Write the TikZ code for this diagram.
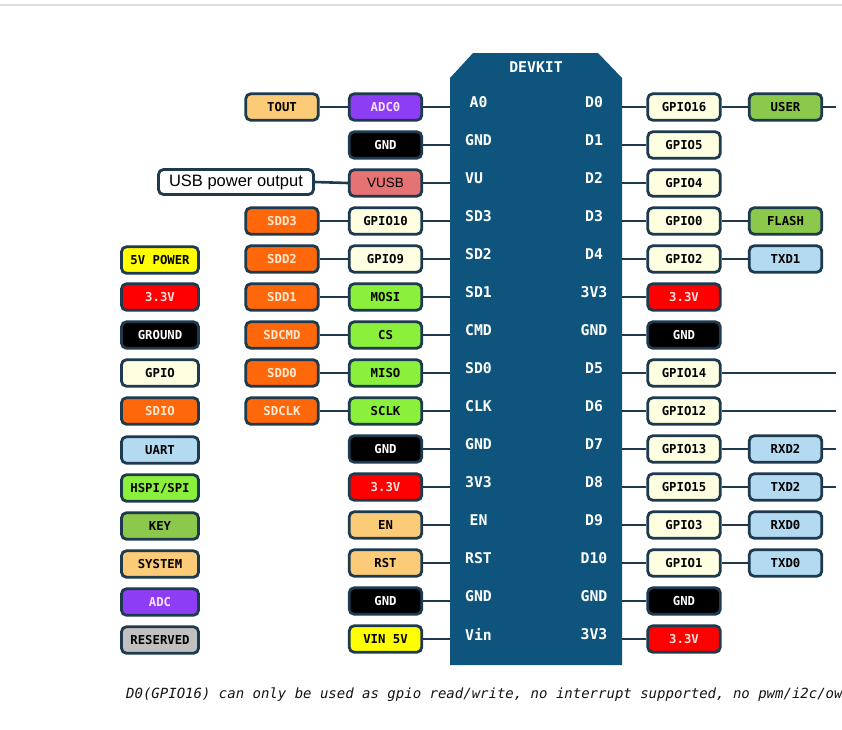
\documentclass[tikz,border=0pt]{standalone}
\usepackage{fontspec}
\newfontfamily\monof{DejaVu Sans Mono}
\newfontfamily\sansf{Liberation Sans}
\definecolor{bordc}{RGB}{30,58,78}
\definecolor{chipc}{RGB}{14,84,125}
\definecolor{sysc}{RGB}{252,203,120}
\definecolor{adcc}{RGB}{141,62,244}
\definecolor{adct}{RGB}{245,225,255}
\definecolor{usbc}{RGB}{229,115,115}
\definecolor{sdioc}{RGB}{255,104,10}
\definecolor{sdiot}{RGB}{255,232,210}
\definecolor{gpioc}{RGB}{254,254,224}
\definecolor{spic}{RGB}{138,240,60}
\definecolor{keyc}{RGB}{140,200,76}
\definecolor{uartc}{RGB}{180,218,242}
\definecolor{redc}{RGB}{255,0,0}
\definecolor{redt}{RGB}{255,225,225}
\definecolor{yelc}{RGB}{255,255,0}
\definecolor{resc}{RGB}{192,192,192}
\definecolor{notec}{RGB}{20,20,20}
\tikzset{
  pbox/.style={draw=bordc, line width=2.8pt, rounded corners=5pt,
    minimum width=72.5pt, minimum height=26.5pt, inner sep=0pt,
    font=\monof\bfseries\fontsize{12.3}{12}\selectfont, text=black},
  lgbox/.style={pbox, minimum width=77pt},
  wire/.style={draw=bordc, line width=2.6pt},
  plabel/.style={text=white, inner sep=0pt,
    font=\monof\bfseries\fontsize{14.8}{15}\selectfont},
  fsys/.style={fill=sysc},
  fadc/.style={fill=adcc, text=adct},
  fgnd/.style={fill=black, text=white},
  fusb/.style={fill=usbc, text=black, font=\sansf\fontsize{13.5}{14}\selectfont},
  fsdio/.style={fill=sdioc, text=sdiot},
  fgpio/.style={fill=gpioc},
  fspi/.style={fill=spic},
  fkey/.style={fill=keyc},
  fuart/.style={fill=uartc},
  fred/.style={fill=redc, text=redt},
  fyel/.style={fill=yelc},
  fres/.style={fill=resc},
}
\begin{document}
\begin{tikzpicture}[x=1pt,y=-1pt]
\fill[white] (0,0) rectangle (842,729);
\useasboundingbox (0,0) rectangle (842,729);
\draw[black!13, line width=1.5pt] (0,5) -- (842,5);

% chip body
\fill[chipc] (450,78) -- (473,53) -- (598,53) -- (622,78) -- (622,665) -- (450,665) -- cycle;
\node[plabel] (title) at (536,67) {DEVKIT};

% chip edge coordinates
\foreach \i in {0,...,14}{
  \pgfmathsetmacro\yy{107+38*\i}
  \coordinate (cL\i) at (450,\yy);
  \coordinate (cR\i) at (622,\yy);
  \coordinate (e\i) at (836,\yy);
}

% chip pin labels
\foreach \xx/\t [count=\i from 0] in {478.5/A0,478.5/GND,474/VU,478.5/SD3,478.5/SD2,478.5/SD1,478.5/CMD,478.5/SD0,478.5/CLK,478.5/GND,478.5/3V3,478.5/EN,478.5/RST,478.5/GND,478.5/Vin}{
  \node[plabel] (pl\i) at (\xx,{102+38*\i}) {\t};
}
\foreach \t [count=\i from 0] in {D0,D1,D2,D3,D4,3V3,GND,D5,D6,D7,D8,D9,D10,GND,3V3}{
  \node[plabel] (pr\i) at (594,{102+38*\i}) {\t};
}

% left inner column
\node[pbox,fadc]  (li0)  at (385.5,107) {ADC0};
\node[pbox,fgnd]  (li1)  at (385.5,145) {GND};
\node[pbox,fusb]  (li2)  at (385.5,183) {VUSB};
\node[pbox,fgpio] (li3)  at (385.5,221) {GPIO10};
\node[pbox,fgpio] (li4)  at (385.5,259) {GPIO9};
\node[pbox,fspi]  (li5)  at (385.5,297) {MOSI};
\node[pbox,fspi]  (li6)  at (385.5,335) {CS};
\node[pbox,fspi]  (li7)  at (385.5,373) {MISO};
\node[pbox,fspi]  (li8)  at (385.5,411) {SCLK};
\node[pbox,fgnd]  (li9)  at (385.5,449) {GND};
\node[pbox,fred]  (li10) at (385.5,487) {3.3V};
\node[pbox,fsys]  (li11) at (385.5,525) {EN};
\node[pbox,fsys]  (li12) at (385.5,563) {RST};
\node[pbox,fgnd]  (li13) at (385.5,601) {GND};
\node[pbox,fyel]  (li14) at (385.5,639) {VIN 5V};

% left outer column
\node[pbox,fsys]  (lo0) at (282,107) {TOUT};
\node[pbox,fill=white, minimum width=155pt, minimum height=25pt,
      font=\sansf\fontsize{16.5}{17}\selectfont] (lo2) at (236,182) {USB power output};
\node[pbox,fsdio] (lo3) at (282,221) {SDD3};
\node[pbox,fsdio] (lo4) at (282,259) {SDD2};
\node[pbox,fsdio] (lo5) at (282,297) {SDD1};
\node[pbox,fsdio] (lo6) at (282,335) {SDCMD};
\node[pbox,fsdio] (lo7) at (282,373) {SDD0};
\node[pbox,fsdio] (lo8) at (282,411) {SDCLK};

% legend
\node[lgbox,fyel]  (lg4)  at (160,260) {5V POWER};
\node[lgbox,fred]  (lg5)  at (160,297) {3.3V};
\node[lgbox,fgnd]  (lg6)  at (160,335) {GROUND};
\node[lgbox,fgpio] (lg7)  at (160,373) {GPIO};
\node[lgbox,fsdio] (lg8)  at (160,411) {SDIO};
\node[lgbox,fuart] (lg9)  at (160,450) {UART};
\node[lgbox,fspi]  (lg10) at (160,488) {HSPI/SPI};
\node[lgbox,fkey]  (lg11) at (160,526) {KEY};
\node[lgbox,fsys]  (lg12) at (160,564) {SYSTEM};
\node[lgbox,fadc]  (lg13) at (160,602) {ADC};
\node[lgbox,fres]  (lg14) at (160,640) {RESERVED};

% right GPIO column
\node[pbox,fgpio] (r0)  at (684,107) {GPIO16};
\node[pbox,fgpio] (r1)  at (684,145) {GPIO5};
\node[pbox,fgpio] (r2)  at (684,183) {GPIO4};
\node[pbox,fgpio] (r3)  at (684,221) {GPIO0};
\node[pbox,fgpio] (r4)  at (684,259) {GPIO2};
\node[pbox,fred]  (r5)  at (684,297) {3.3V};
\node[pbox,fgnd]  (r6)  at (684,335) {GND};
\node[pbox,fgpio] (r7)  at (684,373) {GPIO14};
\node[pbox,fgpio] (r8)  at (684,411) {GPIO12};
\node[pbox,fgpio] (r9)  at (684,449) {GPIO13};
\node[pbox,fgpio] (r10) at (684,487) {GPIO15};
\node[pbox,fgpio] (r11) at (684,525) {GPIO3};
\node[pbox,fgpio] (r12) at (684,563) {GPIO1};
\node[pbox,fgnd]  (r13) at (684,601) {GND};
\node[pbox,fred]  (r14) at (684,639) {3.3V};

% right second column
\node[pbox,fkey]  (rs0)  at (785.5,107) {USER};
\node[pbox,fkey]  (rs3)  at (785.5,221) {FLASH};
\node[pbox,fuart] (rs4)  at (785.5,259) {TXD1};
\node[pbox,fuart] (rs9)  at (785.5,449) {RXD2};
\node[pbox,fuart] (rs10) at (785.5,487) {TXD2};
\node[pbox,fuart] (rs11) at (785.5,525) {RXD0};
\node[pbox,fuart] (rs12) at (785.5,563) {TXD0};

% wires
\foreach \i in {0,...,14}{
  \draw[wire] (li\i.east) -- (cL\i);
  \draw[wire] (cR\i) -- (r\i.west);
}
\foreach \i in {0,3,4,5,6,7,8}{
  \draw[wire] (lo\i.east) -- (li\i.west);
}
\draw[wire] (lo2.east) -- (li2.west);
\foreach \i in {0,3,4,9,10,11,12}{
  \draw[wire] (r\i.east) -- (rs\i.west);
}
\foreach \i in {0,9,10}{
  \draw[wire] (rs\i.east) -- (e\i);
}
\foreach \i in {7,8}{
  \draw[wire] (r\i.east) -- (e\i);
}

% note
\node[anchor=base west, inner sep=0pt, text=notec,
      font=\monof\itshape\fontsize{14}{14}\selectfont] (note) at (126,698)
  {D0(GPIO16) can only be used as gpio read/write, no interrupt supported, no pwm/i2c/ow};
\end{tikzpicture}
\end{document}
